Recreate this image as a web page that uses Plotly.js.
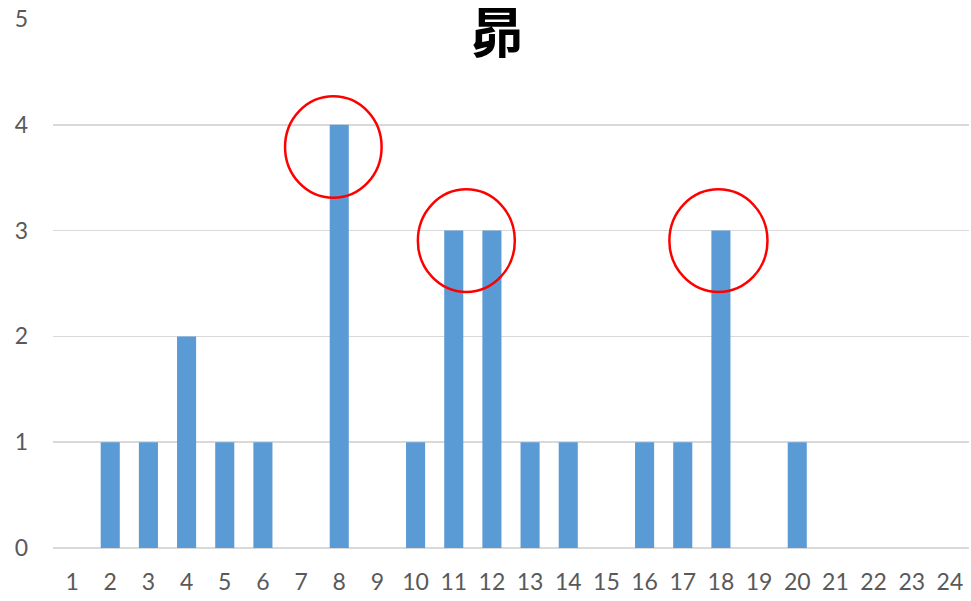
<!DOCTYPE html>
<html>
<head>
<meta charset="utf-8">
<script src="https://cdn.plot.ly/plotly-3.0.1.min.js"></script>
<style>html,body{margin:0;padding:0;background:#fff;}#chart{width:971px;height:601px;}</style>
</head>
<body>
<div id="chart"></div>
<script>
const categories = [1,2,3,4,5,6,7,8,9,10,11,12,13,14,15,16,17,18,19,20,21,22,23,24];
const counts = [0,1,1,2,1,1,0,4,0,1,3,3,1,1,0,1,1,3,0,1,0,0,0,0];
const yTicks = [0,1,2,3,4,5];
const chartTitle = '昴';
// highlighted regions: [x0, x1, y0, y1] in data units
const highlights = [
  [6.58, 9.11, 3.31, 4.27],
  [10.06, 12.60, 2.42, 3.39],
  [16.65, 19.22, 2.42, 3.39]
];

const trace = {
  type: 'bar',
  x: categories,
  y: counts,
  marker: {color: '#5b9bd5'},
  hoverinfo: 'x+y'
};

const layout = {
  width: 971, height: 601,
  margin: {l: 53, r: 2, t: 19, b: 53},
  paper_bgcolor: '#ffffff', plot_bgcolor: '#ffffff',
  bargap: 0.5,
  showlegend: false,
  font: {family: 'Lato, "Open Sans", sans-serif', size: 23, color: '#595959'},
  title: {
    text: '<b>' + chartTitle + '</b>',
    font: {family: '"Noto Sans CJK SC", sans-serif', size: 54, color: '#000000'},
    x: 0.512, xanchor: 'center', xref: 'container',
    y: 0.944, yanchor: 'middle', yref: 'container'
  },
  xaxis: {
    type: 'linear',
    range: [0.5, 24.5],
    tickvals: categories,
    ticktext: categories.map(String),
    showgrid: false, zeroline: false, showline: false,
    ticks: '', ticklabelstandoff: 18,
    fixedrange: true
  },
  yaxis: {
    range: [0, 5],
    tickvals: yTicks,
    showgrid: true, gridcolor: '#d9d9d9', gridwidth: 1.5,
    zeroline: true, zerolinecolor: '#d9d9d9', zerolinewidth: 1.8,
    showline: false, ticks: '', ticklabelstandoff: 24,
    fixedrange: true
  },
  shapes: highlights.map(h => ({
    type: 'circle', xref: 'x', yref: 'y',
    x0: h[0], x1: h[1], y0: h[2], y1: h[3],
    line: {color: '#ff0000', width: 2.5},
    fillcolor: 'rgba(0,0,0,0)'
  }))
};

Plotly.newPlot('chart', [trace], layout, {displayModeBar: false, staticPlot: true});
</script>
</body>
</html>
